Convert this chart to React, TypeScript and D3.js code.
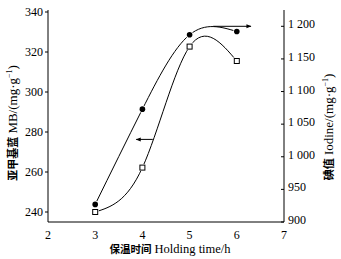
import React from "react";
import * as d3 from "d3";

const hours = [3, 4, 5, 6];
const mbValues = [240, 262.2, 322.7, 315.5];
const iodineValues = [927, 1073, 1187, 1192];
const xTicks = [2, 3, 4, 5, 6, 7];
const mbTicks = [240, 260, 280, 300, 320, 340];
const iodineTicks = [900, 950, 1000, 1050, 1100, 1150, 1200];
const iodineTickLabels = ["900", "950", "1 000", "1 050", "1 100", "1 150", "1 200"];
// arrows: [xFrom, xTo] in hours, at a value on their own axis
const mbArrow = { x0: 4.22, x1: 3.87, v: 276.3 };
const iodineArrow = { x0: 5.5, x1: 6.3, v: 1200 };

const W = 341;
const H = 259;
const L = 48;
const R = 284;
const T = 10;
const B = 222;

const serif = "Liberation Serif, Times New Roman, Times, serif";
const cjk = "Noto Sans CJK SC, sans-serif";

export default function App() {
  const x = d3.scaleLinear().domain([2, 7]).range([L, R]);
  const yL = d3.scaleLinear().domain([235, 341]).range([B, T]);
  const yR = d3.scaleLinear().domain([900, 1225]).range([B, T]);

  const mbLine = d3
    .line<number>()
    .x((_, i) => x(hours[i]))
    .y((d) => yL(d))
    .curve(d3.curveNatural)(mbValues) as string;
  const ioLine = d3
    .line<number>()
    .x((_, i) => x(hours[i]))
    .y((d) => yR(d))
    .curve(d3.curveNatural)(iodineValues) as string;

  return (
    <svg
      width={W}
      height={H}
      style={{ position: "absolute", left: 0, top: 0, background: "#fff" }}
    >
      <defs>
        <marker
          id="ah"
          viewBox="0 0 10 10"
          refX="9"
          refY="5"
          markerWidth="7"
          markerHeight="5"
          orient="auto"
          markerUnits="userSpaceOnUse"
        >
          <path d="M0,1 L10,5 L0,9 Z" fill="#000" />
        </marker>
      </defs>
      <rect x={0} y={0} width={W} height={H} fill="#fff" />
      {/* axes */}
      <line x1={L} y1={T} x2={L} y2={B} stroke="#000" strokeWidth={1} />
      <line x1={R} y1={T} x2={R} y2={B} stroke="#000" strokeWidth={1} />
      <line x1={L} y1={B} x2={R} y2={B} stroke="#000" strokeWidth={1} />
      {mbTicks.map((t) => (
        <g key={"l" + t}>
          <line x1={L - 3} x2={L} y1={yL(t)} y2={yL(t)} stroke="#000" />
          <text
            x={L - 5}
            y={yL(t)}
            textAnchor="end"
            dominantBaseline="central"
            fontFamily={serif}
            fontSize={12}
          >
            {t}
          </text>
        </g>
      ))}
      {iodineTicks.map((t, i) => (
        <g key={"r" + t}>
          <line x1={R - 3} x2={R} y1={yR(t)} y2={yR(t)} stroke="#000" />
          <text
            x={R + 4}
            y={yR(t) - 2}
            textAnchor="start"
            dominantBaseline="central"
            fontFamily={serif}
            fontSize={12}
          >
            {iodineTickLabels[i]}
          </text>
        </g>
      ))}
      {xTicks.map((t) => (
        <text
          key={"x" + t}
          x={x(t)}
          y={B + 17}
          textAnchor="middle"
          fontFamily={serif}
          fontSize={12}
        >
          {t}
        </text>
      ))}
      {/* axis titles */}
      <text x={170} y={B + 31} textAnchor="middle" fontSize={12.5}>
        <tspan fontFamily={cjk} fontWeight="bold" fontSize={10.5}>
          保温时间
        </tspan>
        <tspan fontFamily={serif}> Holding time/h</tspan>
      </text>
      <text
        transform="translate(17,123) rotate(-90)"
        textAnchor="middle"
        fontSize={13}
      >
        <tspan fontFamily={cjk} fontWeight="bold" fontSize={11}>
          亚甲基蓝
        </tspan>
        <tspan fontFamily={serif}> MB/(mg·g</tspan>
        <tspan fontFamily={serif} fontSize={8} dy={-5}>
          −1
        </tspan>
        <tspan fontFamily={serif} dy={5}>
          )
        </tspan>
      </text>
      <text
        transform="translate(333,127) rotate(-90)"
        textAnchor="middle"
        fontSize={13}
      >
        <tspan fontFamily={cjk} fontWeight="bold" fontSize={11}>
          碘值
        </tspan>
        <tspan fontFamily={serif}> Iodine/(mg·g</tspan>
        <tspan fontFamily={serif} fontSize={8} dy={-5}>
          −1
        </tspan>
        <tspan fontFamily={serif} dy={5}>
          )
        </tspan>
      </text>
      {/* curves */}
      <path d={ioLine} fill="none" stroke="#000" strokeWidth={1} />
      <path d={mbLine} fill="none" stroke="#000" strokeWidth={1} />
      {/* arrows */}
      <line
        x1={x(mbArrow.x0)}
        x2={x(mbArrow.x1)}
        y1={yL(mbArrow.v)}
        y2={yL(mbArrow.v)}
        stroke="#000"
        strokeWidth={1}
        markerEnd="url(#ah)"
      />
      <line
        x1={x(iodineArrow.x0)}
        x2={x(iodineArrow.x1)}
        y1={yR(iodineArrow.v)}
        y2={yR(iodineArrow.v)}
        stroke="#000"
        strokeWidth={1}
        markerEnd="url(#ah)"
      />
      {/* markers */}
      {iodineValues.map((v, i) => (
        <circle
          key={"c" + i}
          cx={x(hours[i])}
          cy={yR(v)}
          r={2.8}
          fill="#000"
          stroke="#fff"
          strokeWidth={1.5}
          paintOrder="stroke"
        />
      ))}
      {mbValues.map((v, i) => (
        <g key={"s" + i}>
          <rect
            x={x(hours[i]) - 3.5}
            y={yL(v) - 3.5}
            width={7}
            height={7}
            fill="#fff"
          />
          <rect
            x={x(hours[i]) - 2.5}
            y={yL(v) - 2.5}
            width={5}
            height={5}
            fill="#fff"
            stroke="#000"
            strokeWidth={1}
          />
        </g>
      ))}
    </svg>
  );
}
